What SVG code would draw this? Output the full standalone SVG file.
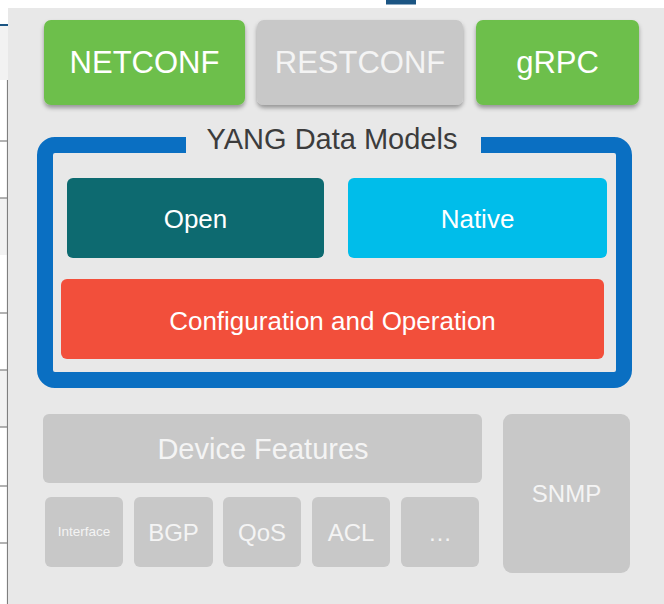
<svg xmlns="http://www.w3.org/2000/svg" width="664" height="604" viewBox="0 0 664 604">
  <defs>
    <filter id="shadow" x="-10%" y="-10%" width="120%" height="130%">
      <feDropShadow dx="0" dy="3" stdDeviation="2" flood-color="#000" flood-opacity="0.35"/>
    </filter>
  </defs>
  <style>
    text { font-family: "Liberation Sans", Arial, sans-serif; text-anchor: middle; }
    .lt { fill: #ffffff; }
    .gt { fill: #f4f4f4; }
    .gray { fill: #c8c8c8; }
    .edge { stroke: #7f7f7f; stroke-width: 1.2; fill: none; }
  </style>

  <!-- page background -->
  <rect x="0" y="0" width="664" height="604" fill="#ffffff"/>
  <rect x="386" y="0" width="30" height="4.5" fill="#1b5583"/>
  <!-- left edge fragments -->
  <g id="left-edge">
    <rect x="0" y="26" width="8" height="54" fill="#f2f2f2"/>
    <rect x="0" y="198" width="8" height="57" fill="#f2f2f2"/>
    <rect x="0" y="370" width="8" height="57" fill="#f2f2f2"/>
    <line x1="0" y1="25" x2="8" y2="25" stroke="#1b5583" stroke-width="2"/>
    <line class="edge" x1="7.5" y1="80" x2="7.5" y2="604"/>
    <line class="edge" x1="0" y1="141" x2="8" y2="141"/>
    <line class="edge" x1="0" y1="198" x2="8" y2="198"/>
    <line class="edge" x1="0" y1="313" x2="8" y2="313"/>
    <line class="edge" x1="0" y1="370" x2="8" y2="370"/>
    <line class="edge" x1="0" y1="427" x2="8" y2="427"/>
    <line class="edge" x1="0" y1="486" x2="8" y2="486"/>
    <line class="edge" x1="0" y1="543" x2="8" y2="543"/>
  </g>
  <rect x="8" y="8" width="656" height="596" fill="#e8e8e8"/>

  <g id="connectors"/>

  <!-- top protocol boxes -->
  <g id="netconf">
    <rect x="44" y="20" width="201" height="85" rx="7" fill="#6dbf4b" filter="url(#shadow)"/>
    <text class="lt" x="144.5" y="73" font-size="31">NETCONF</text>
  </g>
  <g id="restconf">
    <rect x="257" y="20" width="206" height="85" rx="7" fill="#c8c8c8" filter="url(#shadow)"/>
    <text class="gt" x="360" y="73" font-size="31">RESTCONF</text>
  </g>
  <g id="grpc">
    <rect x="476" y="20" width="163" height="85" rx="7" fill="#6dbf4b" filter="url(#shadow)"/>
    <text class="lt" x="557.5" y="73" font-size="31">gRPC</text>
  </g>

  <!-- YANG frame -->
  <g id="yang-data-models">
    <path d="M481,145 H614 A10,10 0 0 1 624,155 V370 A10,10 0 0 1 614,380 H55 A10,10 0 0 1 45,370 V155 A10,10 0 0 1 55,145 H186" fill="none" stroke="#0a6fc2" stroke-width="16"/>
    <text x="332" y="149" font-size="29" fill="#3c3c3c">YANG Data Models</text>
  </g>
  <g id="open">
    <rect x="67" y="178" width="257" height="80" rx="6" fill="#0d6a70"/>
    <text class="lt" x="195.5" y="228" font-size="26">Open</text>
  </g>
  <g id="native">
    <rect x="348" y="178" width="259" height="80" rx="6" fill="#00bdea"/>
    <text class="lt" x="477.5" y="228" font-size="26">Native</text>
  </g>
  <g id="config-operation">
    <rect x="61" y="279" width="543" height="80" rx="6" fill="#f24f3b"/>
    <text class="lt" x="332.5" y="330" font-size="26">Configuration and Operation</text>
  </g>

  <!-- device features -->
  <g id="device-features">
    <rect class="gray" x="43" y="414" width="439" height="69" rx="6"/>
    <text class="gt" x="263" y="459" font-size="29">Device Features</text>
  </g>
  <g id="interface">
    <rect class="gray" x="45" y="497" width="78" height="70" rx="6"/>
    <text class="gt" x="84" y="536" font-size="13.5">Interface</text>
  </g>
  <g id="bgp">
    <rect class="gray" x="134" y="497" width="79" height="70" rx="6"/>
    <text class="gt" x="173.5" y="541" font-size="24">BGP</text>
  </g>
  <g id="qos">
    <rect class="gray" x="223" y="497" width="78" height="70" rx="6"/>
    <text class="gt" x="262" y="541" font-size="24">QoS</text>
  </g>
  <g id="acl">
    <rect class="gray" x="312" y="497" width="78" height="70" rx="6"/>
    <text class="gt" x="351" y="541" font-size="24">ACL</text>
  </g>
  <g id="more">
    <rect class="gray" x="401" y="497" width="78" height="70" rx="6"/>
    <text class="gt" x="440" y="541" font-size="24">…</text>
  </g>
  <g id="snmp">
    <rect class="gray" x="503" y="414" width="127" height="159" rx="9"/>
    <text class="gt" x="566.5" y="502" font-size="24">SNMP</text>
  </g>
</svg>
